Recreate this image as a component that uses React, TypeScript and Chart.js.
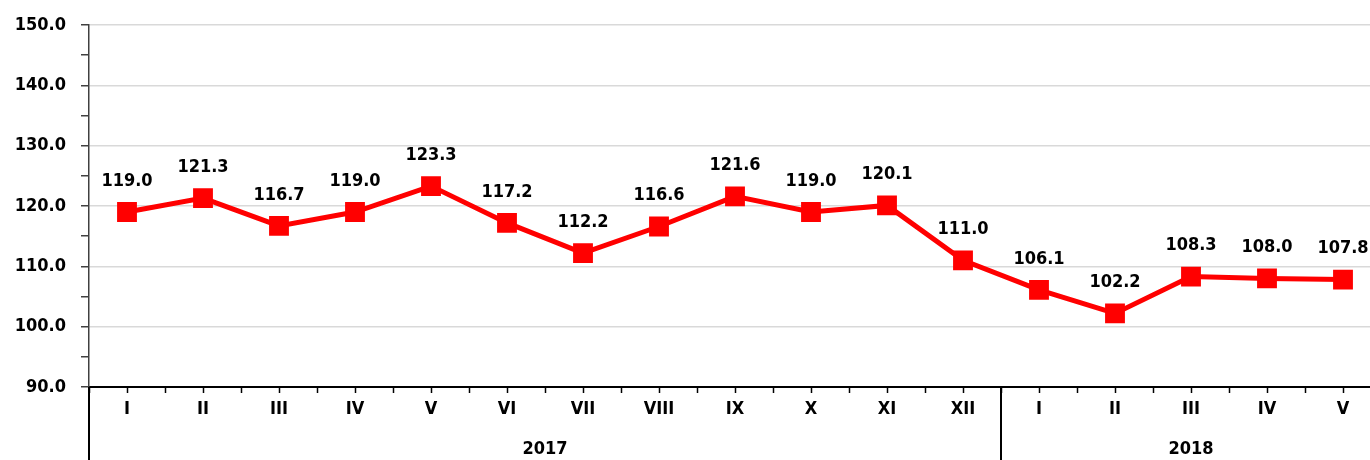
import React, { useEffect, useRef } from "react";
import { Chart, registerables } from "chart.js";

Chart.register(...registerables);

const months = ["I", "II", "III", "IV", "V", "VI", "VII", "VIII", "IX", "X", "XI", "XII", "I", "II", "III", "IV", "V"];
const values = [119.0, 121.3, 116.7, 119.0, 123.3, 117.2, 112.2, 116.6, 121.6, 119.0, 120.1, 111.0, 106.1, 102.2, 108.3, 108.0, 107.8];
const years = ["2017", "2018"];
const yearCounts = [12, 5];

const FONT = "'DejaVu Sans Condensed', 'DejaVu Sans', sans-serif";
const FS = 18;

const overlayPlugin = {
  id: "overlay",
  afterDatasetsDraw(chart: any) {
    const ctx = chart.ctx;
    const meta = chart.getDatasetMeta(0);
    ctx.save();
    ctx.fillStyle = "#000";
    ctx.font = `bold ${FS}px ${FONT}`;
    ctx.textAlign = "center";
    ctx.textBaseline = "middle";
    meta.data.forEach((pt: any, i: number) => {
      ctx.fillText(values[i].toFixed(1), pt.x, pt.y - 31);
    });
    ctx.restore();
  },
  afterDraw(chart: any) {
    const ctx = chart.ctx;
    const x = chart.scales.x;
    const area = chart.chartArea;
    const half = (x.getPixelForValue(1) - x.getPixelForValue(0)) / 2;
    ctx.save();
    ctx.strokeStyle = "#000";
    ctx.lineWidth = 1.5;
    months.forEach((_, i) => {
      const px = Math.round(x.getPixelForValue(i)) + 0.5;
      ctx.beginPath();
      ctx.moveTo(px, area.bottom);
      ctx.lineTo(px, area.bottom + 6);
      ctx.stroke();
    });
    ctx.fillStyle = "#000";
    ctx.font = `bold ${FS}px ${FONT}`;
    ctx.textAlign = "center";
    ctx.textBaseline = "middle";
    let start = 0;
    const bounds: number[] = [];
    years.forEach((y, gi) => {
      const end = start + yearCounts[gi] - 1;
      const l = x.getPixelForValue(start) - half;
      const r = x.getPixelForValue(end) + half;
      bounds.push(l);
      ctx.fillText(y, (l + r) / 2, 449);
      start = end + 1;
    });
    ctx.lineWidth = 2;
    bounds.forEach((b) => {
      ctx.beginPath();
      ctx.moveTo(Math.round(b), area.bottom);
      ctx.lineTo(Math.round(b), chart.height);
      ctx.stroke();
    });
    ctx.restore();
  },
};

export default function App() {
  const ref = useRef<HTMLCanvasElement>(null);
  useEffect(() => {
    const chart = new Chart(ref.current!, {
      type: "line",
      data: {
        labels: months,
        datasets: [
          {
            data: values,
            borderColor: "#ff0000",
            backgroundColor: "#ff0000",
            borderWidth: 5,
            pointStyle: "rect",
            pointRadius: 10.5,
            pointHoverRadius: 10.5,
            tension: 0,
          },
        ],
      },
      options: {
        animation: false,
        responsive: false,
        layout: { autoPadding: false, padding: { top: 25, right: 0, left: 0, bottom: 0 } },
        plugins: { legend: { display: false }, tooltip: { enabled: false } },
        scales: {
          x: {
            offset: true,
            grid: {
              offset: true,
              drawOnChartArea: false,
              drawTicks: true,
              tickLength: 6,
              tickColor: "#000",
              tickWidth: 1.5,
            },
            border: { color: "#000", width: 2 },
            ticks: {
              color: "#000",
              font: { family: FONT, size: FS, weight: "bold" },
              padding: 6,
              maxRotation: 0,
              autoSkip: false,
            },
            afterFit(scale: any) {
              scale.height = 73;
              scale.paddingLeft = 0;
              scale.paddingRight = 0;
            },
          },
          y: {
            min: 90,
            max: 150,
            ticks: {
              stepSize: 5,
              color: "#000",
              font: { family: FONT, size: FS, weight: "bold" },
              padding: 15,
              callback: (v: any) => (Number(v) % 10 === 0 ? Number(v).toFixed(1) : ""),
            },
            grid: {
              color: (c: any) => (c.tick && c.tick.value % 10 === 0 ? "#d9d9d9" : "rgba(0,0,0,0)"),
              lineWidth: 1.5,
              drawTicks: true,
              tickLength: 8,
              tickColor: "#404040",
            },
            border: { color: "#404040", width: 1.5 },
            afterFit(scale: any) {
              scale.width = 89;
              scale.paddingTop = 0;
              scale.paddingBottom = 0;
            },
          },
        },
      },
      plugins: [overlayPlugin],
    });
    return () => chart.destroy();
  }, []);
  return (
    <div style={{ position: "absolute", left: 0, top: 0, width: 1370, height: 460, overflow: "hidden", background: "#fff" }}>
      <canvas ref={ref} width={1381} height={460} style={{ display: "block" }} />
    </div>
  );
}
